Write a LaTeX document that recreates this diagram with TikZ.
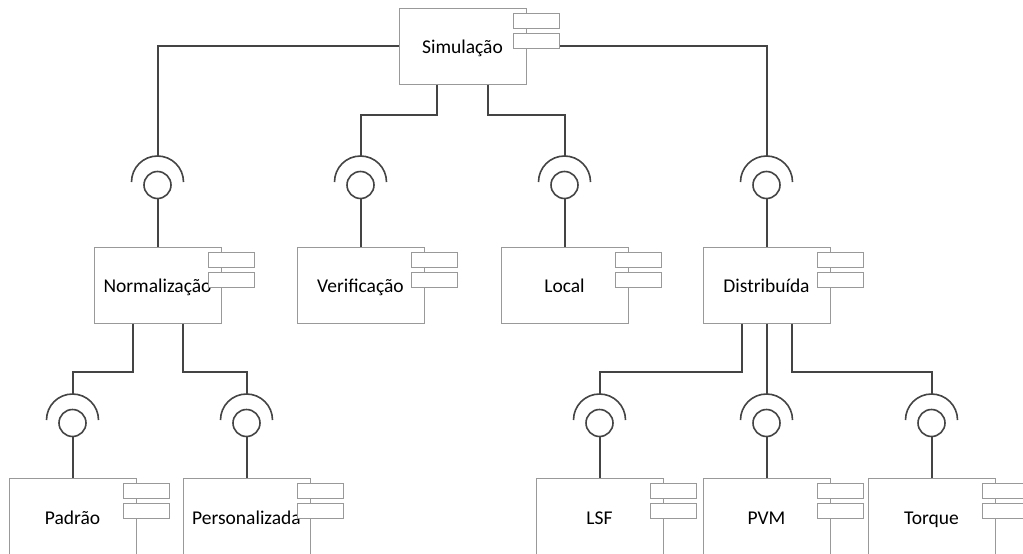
\documentclass[tikz,border=0pt]{standalone}
\usepackage{fontspec}
\setmainfont{Carlito}
\usetikzlibrary{calc}
\definecolor{boxgray}{HTML}{999999}
\definecolor{wire}{HTML}{444444}
\tikzset{
  comp/.style={draw=boxgray, line width=1pt, fill=white, minimum width=127pt,
    minimum height=76pt, inner sep=0pt, text height=20pt, text depth=4.6pt,
    font=\fontsize{19.5}{21}\selectfont},
  lowcomp/.style={comp, minimum height=77pt},
  comptab/.style={draw=boxgray, line width=1pt, fill=white, minimum width=46pt,
    minimum height=15pt, inner sep=0pt, anchor=north west},
  wireline/.style={draw=wire, line width=2pt},
  ball/.style={circle, draw=wire, line width=1.6pt, minimum size=27pt, inner sep=0pt, fill=white},
  sockarc/.style={draw=wire, line width=1.6pt},
}
% the two small tabs of a component symbol
\newcommand\comptabs[1]{%
  \node[comptab] (#1-t1) at ([xshift=-14pt,yshift=-5pt]#1.north east) {};
  \node[comptab] (#1-t2) at ([xshift=-14pt,yshift=-25pt]#1.north east) {};
}
% required interface: ball with a half-circle socket above it
\newcommand\socket[3]{%
  \node[ball] (#1) at (#2,#3) {};
  \draw[sockarc] ([xshift=26pt,yshift=3pt]#1.center) arc[start angle=0, end angle=180, radius=26pt];
  \coordinate (#1-top) at ([yshift=29pt]#1.center);
}
\begin{document}
\begin{tikzpicture}[x=1pt, y=-1pt]
  \useasboundingbox (0,0) rectangle (1023,554);
  \clip (0,0) rectangle (1023,554);
  \fill[white] (0,0) rectangle (1023,554);

  % components
  \node[comp] (sim)   at (462.5,46)  {Simulação};
  \node[comp] (norm)  at (157.5,285) {Normalização};
  \node[comp] (verif) at (360.5,285) {Verificação};
  \node[comp] (local) at (564.5,285) {Local};
  \node[comp] (dist)  at (766.5,285) {Distribuída};
  \node[lowcomp] (pad)  at (72.5,516.5)  {Padrão};
  \node[lowcomp] (pers) at (246.5,516.5) {Personalizada};
  \node[lowcomp] (lsf)  at (599.5,516.5) {LSF};
  \node[lowcomp] (pvm)  at (766.5,516.5) {PVM};
  \node[lowcomp] (torq) at (931.5,516.5) {Torque};

  % sockets
  \socket{ksnorm}{157.5}{185}
  \socket{ksverif}{360.5}{185}
  \socket{kslocal}{564.5}{185}
  \socket{ksdist}{766.5}{185}
  \socket{kspad}{72.5}{423}
  \socket{kspers}{246.5}{423}
  \socket{kslsf}{599.5}{423}
  \socket{kspvm}{766.5}{423}
  \socket{kstorq}{931.5}{423}

  % connectors from the providers to the sockets
  \draw[wireline] (sim.west) -| (ksnorm-top);
  \draw[wireline] (sim.east) -| (ksdist-top);
  \draw[wireline] ([xshift=-25.5pt]sim.south) -- ++(0,30) -| (ksverif-top);
  \draw[wireline] ([xshift=25.5pt]sim.south) -- ++(0,30) -| (kslocal-top);
  \draw[wireline] ([xshift=-25pt]norm.south) -- ++(0,48) -| (kspad-top);
  \draw[wireline] ([xshift=25.5pt]norm.south) -- ++(0,48) -| (kspers-top);
  \draw[wireline] ([xshift=-25pt]dist.south) -- ++(0,48) -| (kslsf-top);
  \draw[wireline] (dist.south) -- (kspvm-top);
  \draw[wireline] ([xshift=25.5pt]dist.south) -- ++(0,48) -| (kstorq-top);

  % connectors from the balls to the components
  \foreach \b/\c in {ksnorm/norm, ksverif/verif, kslocal/local, ksdist/dist,
                     kspad/pad, kspers/pers, kslsf/lsf, kspvm/pvm, kstorq/torq}
    \draw[wireline] (\b.south) -- (\c.north);

  % component tabs drawn over the boxes and labels
  \comptabs{sim}
  \comptabs{norm}
  \comptabs{verif}
  \comptabs{local}
  \comptabs{dist}
  \comptabs{pad}
  \comptabs{pers}
  \comptabs{lsf}
  \comptabs{pvm}
  \comptabs{torq}
\end{tikzpicture}
\end{document}
